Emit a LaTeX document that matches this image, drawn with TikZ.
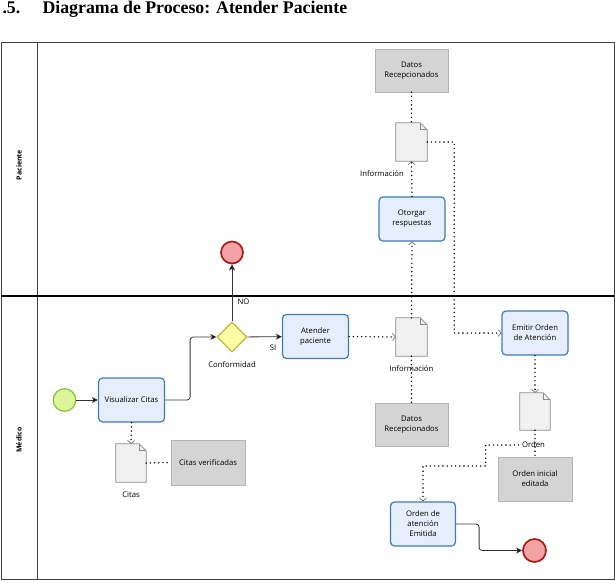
\documentclass[tikz,border=0pt]{standalone}
\usepackage{fontspec}
\setmainfont{Liberation Serif}
\newfontfamily\bpmnfont{Open Sans}
\usepackage{xcolor}
\definecolor{TaskFill}{HTML}{E6EDFB}
\definecolor{TaskLine}{HTML}{3A7CB8}
\definecolor{NoteFill}{HTML}{D4D4D4}
\definecolor{NoteLine}{HTML}{B4B4B4}
\definecolor{DocFill}{HTML}{F0F0F0}
\definecolor{DocLine}{HTML}{8A8A8A}
\definecolor{GateFill}{HTML}{FFFFA6}
\definecolor{GateLine}{HTML}{B9B93A}
\definecolor{StartFill}{HTML}{DDF59A}
\definecolor{StartLine}{HTML}{8CC43C}
\definecolor{EndFill}{HTML}{F2A2A4}
\definecolor{EndLine}{HTML}{A81C1C}
\usepackage{tikz}
\usetikzlibrary{positioning,arrows.meta,shapes.geometric,calc}

\begin{document}
\begin{tikzpicture}[
  x=1pt, y=-1pt,
  txt/.style={font=\bpmnfont\fontsize{7.7}{10}\selectfont},
  task/.style={
    txt,
    draw=TaskLine,
    fill=TaskFill,
    line width=1.2pt,
    rounded corners=4pt,
    minimum width=66pt,
    minimum height=44pt,
    inner sep=1pt,
    align=center
  },
  note/.style={
    txt,
    draw=NoteLine,
    fill=NoteFill,
    line width=0.4pt,
    minimum width=73pt,
    minimum height=43pt,
    align=center
  },
  docobj/.style={minimum width=31pt, minimum height=38pt, inner sep=0pt},
  docline/.style={draw=DocLine, fill=DocFill, line width=0.7pt},
  gate/.style={
    diamond,
    draw=GateLine,
    fill=GateFill,
    line width=1.2pt,
    minimum width=30pt,
    minimum height=30pt,
    inner sep=0pt
  },
  startev/.style={circle, draw=StartLine, fill=StartFill, line width=1.3pt,
    minimum size=22.5pt, inner sep=0pt},
  endev/.style={circle, draw=EndLine, fill=EndFill, line width=1.7pt,
    minimum size=22pt, inner sep=0pt},
  flow/.style={draw=black!80, line width=0.8pt, rounded corners=3pt,
    -{Stealth[length=6pt,width=6pt,inset=1.5pt,fill=black]}},
  assoc/.style={line width=1.6pt, line cap=round,
    dash pattern=on 0pt off 4.2pt},
  assocarr/.style={assoc,
    -{Straight Barb[length=3pt,width=7pt,line width=0.6pt,color=black!60]}},
  lanelbl/.style={font=\bpmnfont\bfseries\fontsize{7}{8}\selectfont, rotate=90}
]
\useasboundingbox (0,0) rectangle (615,582);

% =========================================================
% TITLE AND POOL
% =========================================================

\node[anchor=base west, font=\bfseries\fontsize{17.8}{20}\selectfont] (secno) at (-1,13) {.5.};
\node[anchor=base west, font=\bfseries\fontsize{17.8}{20}\selectfont] (title) at (39,13)
{Diagrama de Proceso: Atender Paciente};

\draw[black!75, line width=0.8pt] (1,42) rectangle (614,579);
\draw[black!75, line width=0.8pt] (37.5,42) -- (37.5,579);
\draw[black, line width=1.4pt] (1,296) -- (614,296);

\node[lanelbl] (lanepac) at (19,165) {Paciente};
\node[lanelbl] (lanemed) at (19,440) {Médico};

% =========================================================
% MEDICO LANE
% =========================================================

\node[startev] (start) at (64.5,400) {};

\node[task] (visual) at (131.5,400) {Visualizar Citas};

\node[gate] (conf) at (232,337) {};
\node[txt, below=5pt of conf] (conflbl) {Conformidad};

\node[endev] (endno) at (232,252.5) {};

\node[task] (atender) at (315.5,336.5) {Atender\\paciente};

\node[docobj] (docinfo) at (411.5,337) {};
\node[txt] (infolbl) at (411.5,368.5) {Información};

\node[note] (datosmed) at (411.5,425) {Datos\\Recepcionados};

\node[task] (emitir) at (535,333) {Emitir Orden\\de Atención};

\node[docobj, minimum width=30pt, minimum height=37pt] (docorden) at (535,411.5) {};
\node[txt] (ordenlbl) at (533.5,445) {Orden};

\node[note, minimum width=74pt, minimum height=44pt] (ordenini) at (535,479)
{Orden inicial\\editada};

\node[task, minimum width=65pt] (emitida) at (423,524) {Orden de\\atención\\Emitida};

\node[endev, minimum size=23pt] (endfin) at (534.5,550.5) {};

\node[docobj, minimum width=30pt] (doccitas) at (131,463) {};
\node[txt] (citaslbl) at (131,494.5) {Citas};

\node[note, minimum width=74pt, minimum height=45pt] (citasver) at (208,462.5)
{Citas verificadas};

% =========================================================
% PACIENTE LANE
% =========================================================

\node[task] (otorgar) at (412,219) {Otorgar\\respuestas};

\node[docobj] (docresp) at (411.5,142) {};
\node[txt] (resplbl) at (382,174) {Información};

\node[note] (datospac) at (411.5,70.5) {Datos\\Recepcionados};

% data object outlines
\foreach \d in {docinfo,docorden,doccitas,docresp}
{
  \draw[docline] (\d.south west) -- (\d.north west)
    -- ([xshift=-7pt]\d.north east) -- ([yshift=-7pt]\d.north east)
    -- (\d.south east) -- cycle;
  \draw[docline, fill=none] ([xshift=-7pt]\d.north east)
    -- ([xshift=-7pt,yshift=-7pt]\d.north east) -- ([yshift=-7pt]\d.north east);
}

% =========================================================
% SEQUENCE FLOWS
% =========================================================

\draw[flow] (start) -- (visual);
\draw[flow] (visual.east) -- ++(25,0) |- (conf.west);
\draw[flow] (conf) -- (endno);
\draw[flow] (conf) -- (atender);
\draw[flow] (emitida.east) -- ++(23,0) |- (endfin.west);

\node[txt, anchor=west] (nolbl) at (234,302) {NO};
\node[txt] (silbl) at (273,347.5) {SI};

% =========================================================
% ASSOCIATIONS
% =========================================================

\draw[assocarr] (visual.south) -- (doccitas.north);
\draw[assoc] (doccitas.east) -- (citasver.west);

\draw[assocarr] (atender.east) -- (docinfo.west);
\draw[assocarr] (docinfo.north) -- (otorgar.south);
\draw[assoc] (docinfo.south) -- (datosmed.north);

\draw[assocarr] (otorgar.north) -- (docresp.south);
\draw[assoc] (datospac.south) -- (docresp.north);
\draw[assocarr] (docresp.east) -- ++(27,0) |- (emitir.west);

\draw[assocarr] (emitir.south) -- (docorden.north);
\draw[assoc] (docorden.south) -- (ordenini.north);
\draw[assocarr] (ordenlbl.west) -- ++(-33,0) -- ++(0,21) -| (emitida.north);

\end{tikzpicture}
\end{document}
